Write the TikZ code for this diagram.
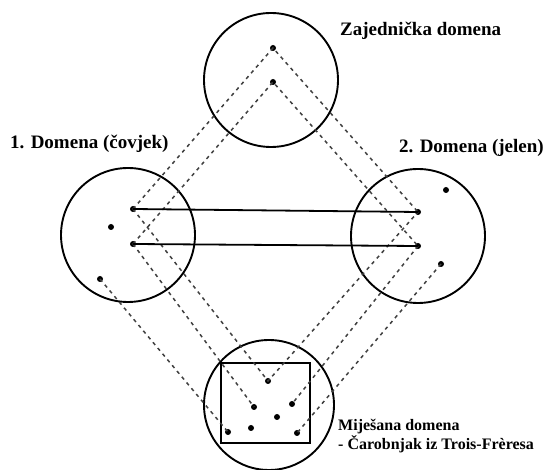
\documentclass[tikz,border=0pt]{standalone}
\usepackage{fontspec}
\setmainfont{Liberation Serif}
\begin{document}
\begin{tikzpicture}[x=1pt,y=-1pt,
  dot/.style={circle,fill,inner sep=0pt,minimum size=6pt},
  space/.style={draw,circle,line width=1.9pt,inner sep=0pt,minimum size=#1},
  space/.default=134pt,
  map/.style={black!75,line width=1.5pt,dash pattern=on 3.5pt off 4pt},
  link/.style={line width=1.8pt},
  lbl/.style={font=\bfseries\fontsize{19}{22}\selectfont,inner sep=0pt,anchor=base west}]
\useasboundingbox (0,0) rectangle (547,470);
% domains
\node[space] (gen) at (271,80) {};
\node[space] (dom1) at (128,235) {};
\node[space] (dom2) at (418,236) {};
\node[space=130pt] (mix) at (269,405) {};
\node[draw,line width=1.9pt,inner sep=0pt,minimum width=89pt,minimum height=80pt] (frame) at (265.5,403) {};
% points
\node[dot] (g1) at (273,48) {};
\node[dot] (g2) at (273,82) {};
\node[dot] (a1) at (133,209) {};
\node[dot] (a2) at (133,244) {};
\node[dot] (a3) at (100,279) {};
\node[dot] (a4) at (111,227) {};
\node[dot] (b1) at (418,212) {};
\node[dot] (b2) at (418,246) {};
\node[dot] (b3) at (441,264) {};
\node[dot] (b4) at (446,190) {};
\node[dot] (m1) at (268,381) {};
\node[dot] (m2) at (254,407) {};
\node[dot] (m3) at (292,404) {};
\node[dot] (m4) at (228,432) {};
\node[dot] (m5) at (297,433) {};
\node[dot] (m6) at (277,417) {};
\node[dot] (m7) at (251,428) {};
% mappings
\draw[map] (a1.center)--(g1.center)--(b1.center);
\draw[map] (a2.center)--(g2.center)--(b2.center);
\draw[map] (a1.center)--(m1.center)--(b1.center);
\draw[map] (a2.center)--(m2.center);
\draw[map] (b2.center)--(m3.center);
\draw[map] (a3.center)--(m4.center);
\draw[map] (b3.center)--(m5.center);
\draw[link] (a1.center)--(b1.center);
\draw[link] (a2.center)--(b2.center);
% labels
\node[lbl] (lgen) at (340,36) {Zajednička domena};
\node[lbl] (ldom1) at (10,149) {1. Domena (čovjek)};
\node[lbl] (ldom2) at (399,153) {2. Domena (jelen)};
\node[lbl,font=\bfseries\fontsize{16}{19}\selectfont,anchor=north west,align=left] (lmix) at (338,419) {Miješana domena\\- Čarobnjak iz Trois-Frèresa};
\end{tikzpicture}
\end{document}
